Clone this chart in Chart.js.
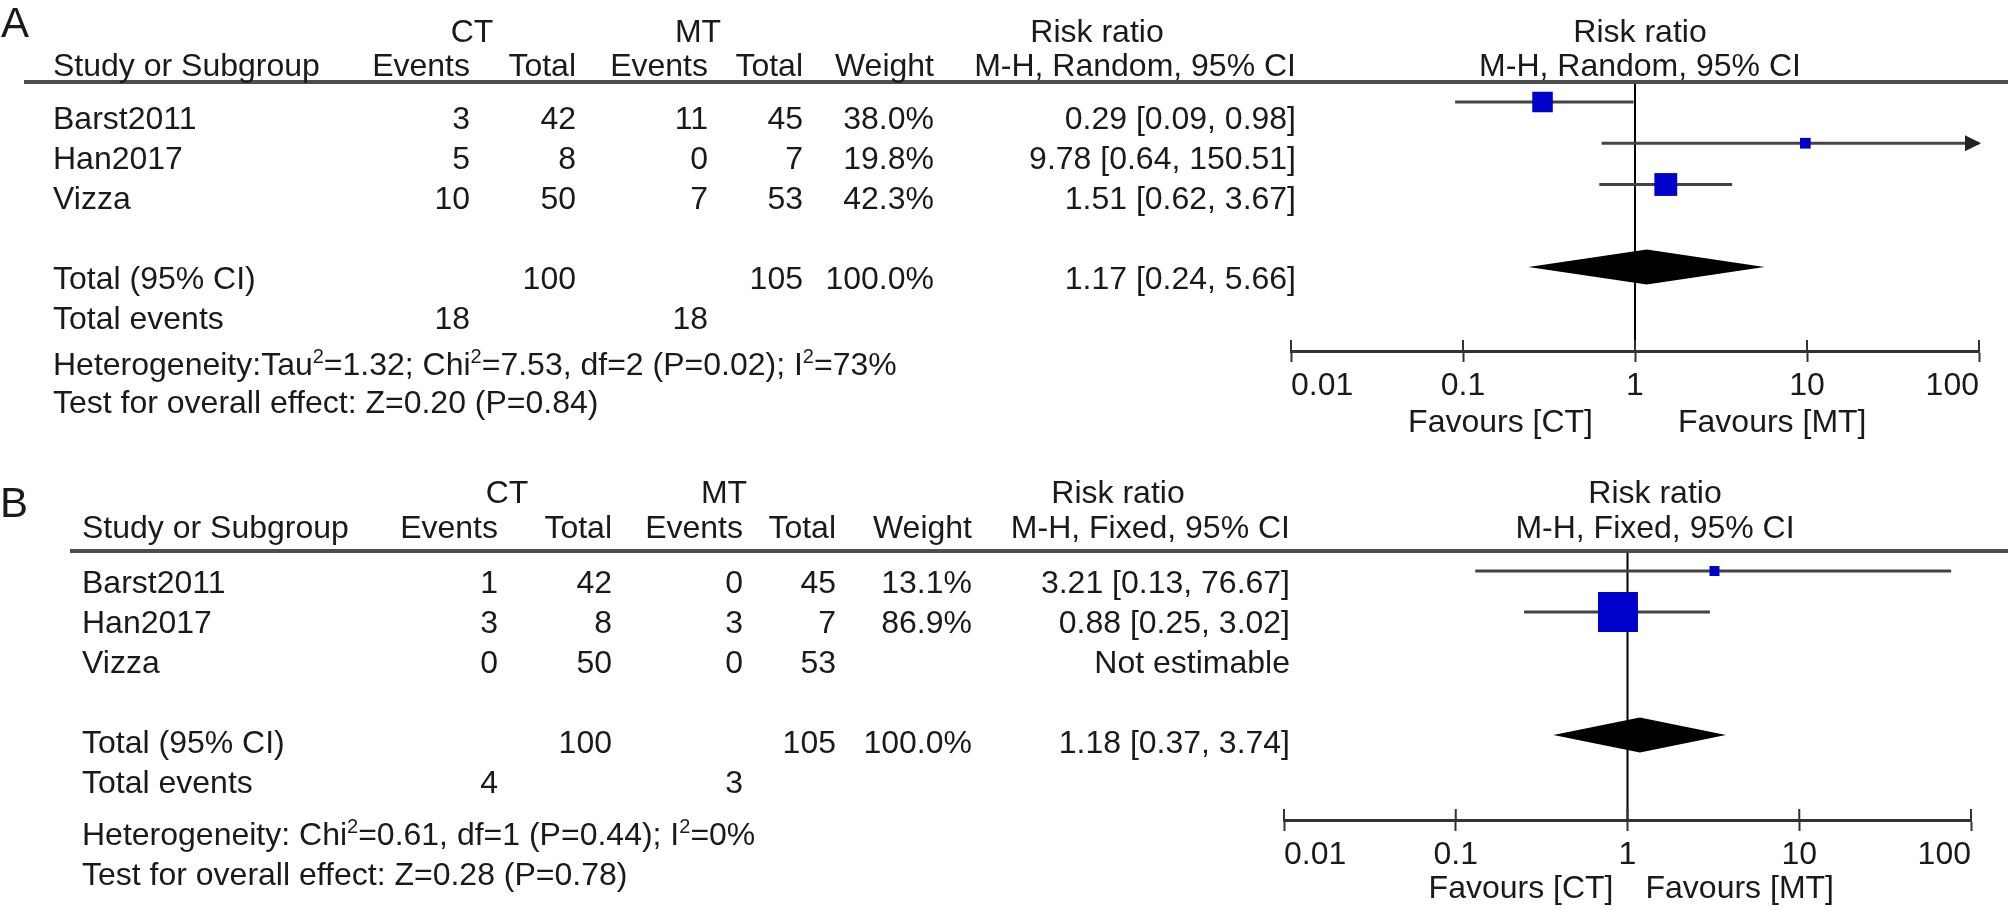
<!DOCTYPE html>
<html>
<head>
<meta charset="utf-8">
<script src="https://cdn.jsdelivr.net/npm/chart.js@4.4.1/dist/chart.umd.min.js"></script>
<style>
  html, body { margin: 0; padding: 0; background: #fff; }
  canvas { display: block; }
</style>
</head>
<body>
<canvas id="panelA" width="2008" height="455"></canvas>
<canvas id="panelB" width="2008" height="455"></canvas>
<script>
// ---- data ----
const STUDIES     = ['Barst2011', 'Han2017', 'Vizza'];
const HEAD_COLS   = ['Events', 'Total', 'Events', 'Total', 'Weight'];
const TICKS       = [0.01, 0.1, 1, 10, 100];
const TICK_LABELS = ['0.01', '0.1', '1', '10', '100'];
const FAVOURS     = ['Favours [CT]', 'Favours [MT]'];

// A: random effects
const A_CT_EVENTS   = [3, 5, 10];
const A_CT_TOTAL    = [42, 8, 50];
const A_MT_EVENTS   = [11, 0, 7];
const A_MT_TOTAL    = [45, 7, 53];
const A_WEIGHT      = [38.0, 19.8, 42.3];
const A_RR          = [0.29, 9.78, 1.51];
const A_LO          = [0.09, 0.64, 0.62];
const A_HI          = [0.98, 150.51, 3.67];
const A_POOLED      = [1.17, 0.24, 5.66];   // rr, lo, hi
const A_TOTALS      = [100, 105];           // CT, MT
const A_TOTAL_EVENTS = [18, 18];
const A_METHOD      = 'M-H, Random, 95% CI';
const A_HET         = 'Heterogeneity:Tau^2=1.32; Chi^2=7.53, df=2 (P=0.02); I^2=73%';
const A_TEST        = 'Test for overall effect: Z=0.20 (P=0.84)';

// B: fixed effect
const B_CT_EVENTS   = [1, 3, 0];
const B_CT_TOTAL    = [42, 8, 50];
const B_MT_EVENTS   = [0, 3, 0];
const B_MT_TOTAL    = [45, 7, 53];
const B_WEIGHT      = [13.1, 86.9, null];
const B_RR          = [3.21, 0.88, null];
const B_LO          = [0.13, 0.25, null];
const B_HI          = [76.67, 3.02, null];
const B_POOLED      = [1.18, 0.37, 3.74];
const B_TOTALS      = [100, 105];
const B_TOTAL_EVENTS = [4, 3];
const B_METHOD      = 'M-H, Fixed, 95% CI';
const B_HET         = 'Heterogeneity: Chi^2=0.61, df=1 (P=0.44); I^2=0%';
const B_TEST        = 'Test for overall effect: Z=0.28 (P=0.78)';

const TOTAL_WEIGHT = 100.0;
const POOLED_ROW = 4;           // two row gap below the last study

// ---- style ----
const W = 2008, H = 455;
const FAMILY   = '"Liberation Sans", Arial, Helvetica, sans-serif';
const FONT     = `32px ${FAMILY}`;
const SUP_FONT = `20px ${FAMILY}`;
const TEXT     = '#1a1a1a';
const RULE     = '#4d4d4d';
const AXIS_COLOR = '#333';
const WHISKER  = '#444';
const SQUARE   = '#0000cc';
const TICK_LEN = 11;
const AXIS_BOX = 80;
const DIAMOND_H = 17.5;
const X_MIN = TICKS[0], X_MAX = TICKS[TICKS.length - 1];

const LAYOUT_A = {
  letter: 'A', letterX: 1, letterY: 37, ruleX0: 24, ruleY: 82,
  hdr1Y: 42, hdr2Y: 76, x0: 53,
  cols: [470, 576, 708, 803, 934, 1296],
  ctX: 472, mtX: 698, rrHdrX: 1097, plotHdrX: 1640,
  rowBase: 129, rowStep: 40, hetY: 375, testY: 413,
  axisLeft: 1291, axisRight: 1979, axisY: 351, row0Y: 102, rowPx: 41.25,
  favY: 432, favGapL: 42, favGapR: 43, sq: 0.54,
};
const LAYOUT_B = {
  letter: 'B', letterX: 0, letterY: 62, ruleX0: 70, ruleY: 96,
  hdr1Y: 48, hdr2Y: 83, x0: 82,
  cols: [498, 612, 743, 836, 972, 1290],
  ctX: 507, mtX: 724, rrHdrX: 1118, plotHdrX: 1655,
  rowBase: 138, rowStep: 40, hetY: 390, testY: 430,
  axisLeft: 1284, axisRight: 1971, axisY: 365, row0Y: 116, rowPx: 41,
  favY: 443, favGapL: 14, favGapR: 18, sq: 0.46,
};

const fmt2 = v => v.toFixed(2);
const rrText = (rr, lo, hi) => rr == null ? 'Not estimable' : `${fmt2(rr)} [${fmt2(lo)}, ${fmt2(hi)}]`;

/** Draw text where "^2" marks a superscript. */
function drawRich(ctx, str, x, y) {
  const parts = str.split(/\^(\d)/);
  let cx = x;
  ctx.textAlign = 'left';
  parts.forEach((p, i) => {
    const sup = i % 2 === 1;
    ctx.font = sup ? SUP_FONT : FONT;
    ctx.fillText(p, cx, sup ? y - 12 : y);
    cx += ctx.measureText(p).width;
  });
  ctx.font = FONT;
}

function drawTable(chart, L, D) {
  const { ctx } = chart;
  const x1 = chart.scales.x.getPixelForValue(1);
  const c = L.cols;
  const text = (s, px, py, align) => { ctx.textAlign = align; ctx.fillText(s, px, py); };

  ctx.save();
  ctx.fillStyle = TEXT;
  ctx.textBaseline = 'alphabetic';

  ctx.font = `42px ${FAMILY}`;
  text(L.letter, L.letterX, L.letterY, 'left');

  ctx.strokeStyle = RULE;
  ctx.lineWidth = 4;
  ctx.beginPath();
  ctx.moveTo(L.ruleX0, L.ruleY);
  ctx.lineTo(W, L.ruleY);
  ctx.stroke();

  ctx.font = FONT;
  text('CT', L.ctX, L.hdr1Y, 'center');
  text('MT', L.mtX, L.hdr1Y, 'center');
  text('Risk ratio', L.rrHdrX, L.hdr1Y, 'center');
  text('Risk ratio', L.plotHdrX, L.hdr1Y, 'center');
  text('Study or Subgroup', L.x0, L.hdr2Y, 'left');
  HEAD_COLS.forEach((h, j) => text(h, c[j], L.hdr2Y, 'right'));
  text(D.method, c[5], L.hdr2Y, 'right');
  text(D.method, L.plotHdrX, L.hdr2Y, 'center');

  STUDIES.forEach((s, i) => {
    const py = L.rowBase + i * L.rowStep;
    text(s, L.x0, py, 'left');
    text(String(D.ctEvents[i]), c[0], py, 'right');
    text(String(D.ctTotal[i]), c[1], py, 'right');
    text(String(D.mtEvents[i]), c[2], py, 'right');
    text(String(D.mtTotal[i]), c[3], py, 'right');
    if (D.weight[i] != null) text(D.weight[i].toFixed(1) + '%', c[4], py, 'right');
    text(rrText(D.rr[i], D.lo[i], D.hi[i]), c[5], py, 'right');
  });

  const yTot = L.rowBase + POOLED_ROW * L.rowStep;
  text('Total (95% CI)', L.x0, yTot, 'left');
  text(String(D.totals[0]), c[1], yTot, 'right');
  text(String(D.totals[1]), c[3], yTot, 'right');
  text(TOTAL_WEIGHT.toFixed(1) + '%', c[4], yTot, 'right');
  text(rrText(...D.pooled), c[5], yTot, 'right');

  const yEv = yTot + L.rowStep;
  text('Total events', L.x0, yEv, 'left');
  text(String(D.totalEvents[0]), c[0], yEv, 'right');
  text(String(D.totalEvents[1]), c[2], yEv, 'right');

  drawRich(ctx, D.het, L.x0, L.hetY);
  text(D.test, L.x0, L.testY, 'left');

  text(FAVOURS[0], x1 - L.favGapL, L.favY, 'right');
  text(FAVOURS[1], x1 + L.favGapR, L.favY, 'left');
  ctx.restore();
}

function forestPlugin(L, D) {
  return {
    id: 'forest' + L.letter,
    beforeDatasetsDraw(chart) {
      const { ctx, chartArea: ca, scales: { x } } = chart;
      ctx.save();
      // line of no effect
      const x1 = x.getPixelForValue(1);
      ctx.strokeStyle = '#000';
      ctx.lineWidth = 2;
      ctx.beginPath();
      ctx.moveTo(x1, ca.top);
      ctx.lineTo(x1, ca.bottom);
      ctx.stroke();
      // upper half of the tick marks (Chart.js draws the lower half)
      ctx.strokeStyle = AXIS_COLOR;
      ctx.beginPath();
      x.ticks.forEach(t => {
        const px = x.getPixelForValue(t.value);
        ctx.moveTo(px, ca.bottom);
        ctx.lineTo(px, ca.bottom - TICK_LEN);
      });
      ctx.stroke();
      ctx.restore();
    },
    afterDatasetsDraw(chart) {
      const { ctx, scales: { x, y } } = chart;
      ctx.save();
      // arrowheads where a CI runs past the axis
      D.hi.forEach((hi, i) => {
        if (hi == null || hi <= X_MAX) return;
        const px = x.getPixelForValue(X_MAX), py = y.getPixelForValue(i);
        ctx.fillStyle = '#222';
        ctx.beginPath();
        ctx.moveTo(px + 2, py);
        ctx.lineTo(px - 14, py - 8);
        ctx.lineTo(px - 14, py + 8);
        ctx.closePath();
        ctx.fill();
      });
      // pooled estimate diamond
      const [rr, lo, hi] = D.pooled;
      const py = y.getPixelForValue(POOLED_ROW);
      ctx.fillStyle = '#000';
      ctx.beginPath();
      ctx.moveTo(x.getPixelForValue(lo), py);
      ctx.lineTo(x.getPixelForValue(rr), py - DIAMOND_H);
      ctx.lineTo(x.getPixelForValue(hi), py);
      ctx.lineTo(x.getPixelForValue(rr), py + DIAMOND_H);
      ctx.closePath();
      ctx.fill();
      ctx.restore();
    },
    afterDraw(chart) { drawTable(chart, L, D); },
  };
}

function makePanel(canvasId, L, D) {
  const studyRows = STUDIES.map((_, i) => i).filter(i => D.rr[i] != null);

  const squares = {
    type: 'scatter',
    data: studyRows.map(i => ({ x: D.rr[i], y: i })),
    pointStyle: 'rect',
    pointRadius: studyRows.map(i => Math.max(10, D.weight[i] * L.sq) / Math.SQRT2),
    backgroundColor: SQUARE,
    borderWidth: 0,
  };
  const whiskers = studyRows.map(i => ({
    type: 'line',
    data: [{ x: D.lo[i], y: i }, { x: Math.min(D.hi[i], X_MAX), y: i }],
    borderColor: WHISKER,
    borderWidth: 3,
    pointRadius: 0,
  }));

  return new Chart(document.getElementById(canvasId), {
    type: 'scatter',
    data: { datasets: [squares, ...whiskers] },
    options: {
      responsive: false,
      animation: false,
      devicePixelRatio: 1,
      events: [],
      layout: {
        padding: {
          left: L.axisLeft,
          right: W - L.axisRight,
          top: L.ruleY,
          bottom: H - L.axisY - AXIS_BOX,
        },
      },
      plugins: { legend: { display: false }, tooltip: { enabled: false } },
      scales: {
        x: {
          type: 'logarithmic',
          min: X_MIN,
          max: X_MAX,
          afterBuildTicks: s => { s.ticks = TICKS.map(v => ({ value: v })); },
          afterFit: s => { s.height = AXIS_BOX; },
          ticks: {
            align: 'inner',
            padding: 5,
            autoSkip: false,
            maxRotation: 0,
            color: TEXT,
            font: { family: FAMILY, size: 32 },
            callback: (v, idx) => TICK_LABELS[idx],
          },
          grid: { drawOnChartArea: false, drawTicks: true, tickLength: TICK_LEN, tickColor: AXIS_COLOR, tickWidth: 2 },
          border: { display: true, color: AXIS_COLOR, width: 3 },
        },
        y: {
          type: 'linear',
          display: false,
          reverse: true,
          min: -(L.row0Y - L.ruleY) / L.rowPx,
          max: (L.axisY - L.row0Y) / L.rowPx,
        },
      },
    },
    plugins: [forestPlugin(L, D)],
  });
}

makePanel('panelA', LAYOUT_A, {
  ctEvents: A_CT_EVENTS, ctTotal: A_CT_TOTAL, mtEvents: A_MT_EVENTS, mtTotal: A_MT_TOTAL,
  weight: A_WEIGHT, rr: A_RR, lo: A_LO, hi: A_HI, pooled: A_POOLED,
  totals: A_TOTALS, totalEvents: A_TOTAL_EVENTS, method: A_METHOD, het: A_HET, test: A_TEST,
});
makePanel('panelB', LAYOUT_B, {
  ctEvents: B_CT_EVENTS, ctTotal: B_CT_TOTAL, mtEvents: B_MT_EVENTS, mtTotal: B_MT_TOTAL,
  weight: B_WEIGHT, rr: B_RR, lo: B_LO, hi: B_HI, pooled: B_POOLED,
  totals: B_TOTALS, totalEvents: B_TOTAL_EVENTS, method: B_METHOD, het: B_HET, test: B_TEST,
});
</script>
</body>
</html>
